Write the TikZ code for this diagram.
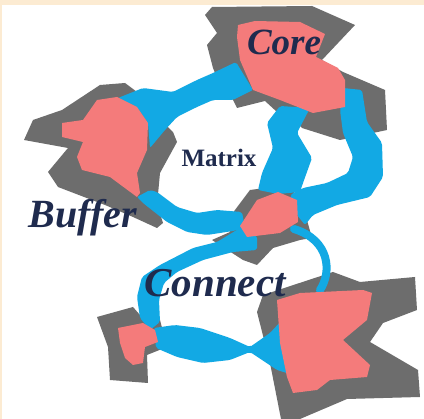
\documentclass[tikz,border=0pt]{standalone}
\usepackage{fontspec}
\setmainfont{Liberation Serif}
\definecolor{frame}{HTML}{FCEBD2}
\definecolor{rock}{HTML}{6D6D6D}
\definecolor{grain}{HTML}{F47B7B}
\definecolor{binder}{HTML}{12A9E4}
\definecolor{ink}{HTML}{1F2B4E}
\tikzset{
  rockfill/.style={fill=rock},
  grainfill/.style={fill=grain},
  binderfill/.style={fill=binder, rounded corners=2pt},
  heavyword/.style={text=ink, font=\fontsize{40}{40}\selectfont\bfseries\itshape, inner sep=0pt},
  smallword/.style={text=ink, font=\fontsize{25}{25}\selectfont\bfseries, inner sep=0pt}
}
\begin{document}
\begin{tikzpicture}[x=1pt, y=-1pt]
% background and frame
\fill[frame] (0,0) rectangle (424,419);
\fill[white] (2,5) rectangle (424,419);
\useasboundingbox (0,0) rectangle (424,419);

% ---------- outer rims ----------
% core rim
\fill[rockfill] (205,15) -- (212,7) -- (312,6) -- (355,25) -- (322,60) -- (343,72)
  -- (385,90) -- (387,130) -- (340,140) -- (302,128) -- (290,115) -- (277,112)
  -- (265,101) -- (237,108) -- (233,100) -- (220,85) -- (213,68) -- (207,45)
  -- (217,33) -- cycle;
% buffer rim
\fill[rockfill] (24,140) -- (33,120) -- (62,110) -- (100,85) -- (125,83) -- (137,92)
  -- (150,110) -- (173,132) -- (177,142) -- (160,173) -- (157,205) -- (163,223)
  -- (157,228) -- (133,217) -- (105,205) -- (58,187) -- (48,172) -- (68,148) -- cycle;
% middle rim
\fill[rockfill] (226,222) -- (250,190) -- (280,186) -- (300,195) -- (312,238)
  -- (300,240) -- (273,248) -- (257,265) -- (243,260) -- (212,240) -- (230,232) -- cycle;
% lower left rim
\fill[rockfill] (97,317) -- (133,307) -- (140,315) -- (160,320) -- (167,347)
  -- (147,355) -- (148,383) -- (110,380) -- (108,347) -- cycle;
% lower right rim
\fill[rockfill] (257,312) -- (263,295) -- (333,272) -- (360,282) -- (415,277)
  -- (417,310) -- (383,323) -- (370,342) -- (418,370) -- (420,397) -- (347,399)
  -- (300,419) -- (281,419) -- (270,363) -- cycle;

% ---------- binder strands ----------
% buffer to core
\fill[binderfill] (118,98) -- (143,88) -- (173,92) -- (197,80) -- (213,73) -- (236,62)
  -- (253,90) -- (233,100) -- (213,100) -- (197,107) -- (177,117) -- (165,130)
  -- (150,148) -- (148,123) -- (137,107) -- cycle;
% core down, left strand
\fill[binderfill] (280,106) -- (310,108) -- (297,133) -- (312,158) -- (303,183)
  -- (300,192) -- (278,194) -- (258,190) -- (262,173) -- (273,148) -- (267,123) -- cycle;
% core down, right strand
\fill[binderfill] (343,88) -- (362,90) -- (367,122) -- (382,143) -- (383,177)
  -- (370,197) -- (337,205) -- (313,215) -- (305,225) -- (297,215) -- (290,195)
  -- (303,188) -- (327,183) -- (348,173) -- (353,157) -- (343,133) -- (340,110) -- cycle;
% buffer to middle
\fill[binderfill] (137,197) -- (150,190) -- (157,192) -- (177,207) -- (197,213)
  -- (217,210) -- (242,212) -- (245,228) -- (233,231) -- (207,235) -- (187,232)
  -- (167,222) -- (143,203) -- cycle;
% middle down to lower left
\fill[binderfill] (240,228) -- (257,236) -- (257,250) -- (233,252) -- (203,260)
  -- (177,272) -- (164,283) -- (159,300) -- (160,322) -- (150,330) -- (140,318)
  -- (137,297) -- (142,277) -- (160,265) -- (193,248) -- (217,242) -- cycle;
% thin strand, middle to lower right
\draw[binder, line width=8pt, line cap=round]
  (294,229) .. controls (330,240) and (332,272) .. (320,290);
% lower left to lower right
\fill[binderfill] (154,328) -- (175,325) -- (200,328) -- (230,338) -- (250,347)
  -- (270,333) -- (282,320) -- (290,374) -- (277,370) -- (250,352) -- (230,360)
  -- (203,363) -- (177,357) -- (156,348) -- cycle;

% ---------- grains ----------
\fill[grainfill] (238,25) -- (255,21) -- (300,22) -- (325,34) -- (316,57) -- (338,68)
  -- (345,80) -- (345,107) -- (313,113) -- (280,100) -- (253,90) -- (240,60)
  -- (237,37) -- cycle;
\fill[grainfill] (62,123) -- (83,120) -- (97,100) -- (117,97) -- (137,107) -- (148,123)
  -- (147,150) -- (137,173) -- (140,193) -- (137,197) -- (110,177) -- (82,170)
  -- (77,157) -- (83,142) -- (62,137) -- cycle;
\fill[grainfill] (240,226) -- (257,200) -- (278,192) -- (297,200) -- (298,222)
  -- (280,233) -- (247,237) -- cycle;
\fill[grainfill] (118,328) -- (143,323) -- (155,330) -- (158,342) -- (145,347)
  -- (143,363) -- (133,365) -- (125,358) -- (120,343) -- cycle;
\fill[grainfill] (277,300) -- (300,293) -- (363,290) -- (372,293) -- (367,320)
  -- (343,340) -- (370,365) -- (367,377) -- (330,380) -- (317,390) -- (293,393)
  -- (287,377) -- (280,343) -- cycle;

% ---------- labels ----------
\node[heavyword, anchor=base, font=\fontsize{37}{37}\selectfont\bfseries\itshape] (core) at (284,55) {Core};
\node[heavyword, anchor=base] (buffer) at (83,228) {Buffer};
\node[heavyword, anchor=base, font=\fontsize{41}{41}\selectfont\bfseries\itshape] (connect) at (215,297) {Connect};
\node[smallword, anchor=base] (matrix) at (219,167) {Matrix};
\end{tikzpicture}
\end{document}
